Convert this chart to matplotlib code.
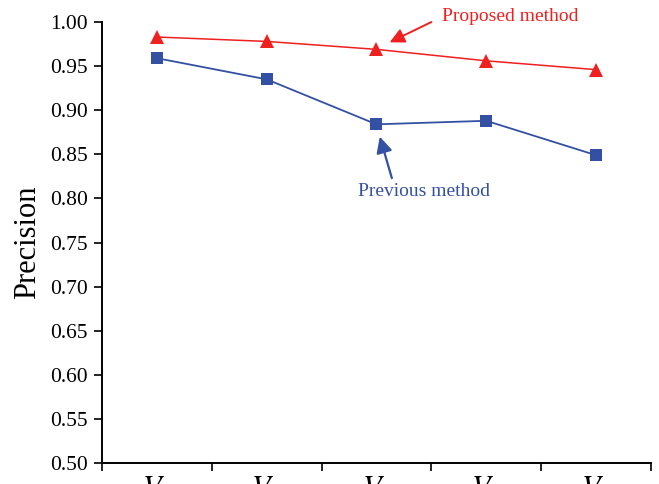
import matplotlib
matplotlib.use("Agg")
import matplotlib.pyplot as plt
import numpy as np

# 数据
categories = ["$V_1$", "$V_2$", "$V_3$", "$V_4$", "$V_5$"]
proposed = [0.983, 0.978, 0.969, 0.956, 0.946]
previous = [0.959, 0.935, 0.884, 0.888, 0.849]
yticks = [0.50, 0.55, 0.60, 0.65, 0.70, 0.75, 0.80, 0.85, 0.90, 0.95, 1.00]

plt.rcParams["font.family"] = ["Liberation Serif", "DejaVu Serif"]
plt.rcParams["mathtext.fontset"] = "stix"

red = "#ee2020"
blue = "#3350a3"

fig = plt.figure(figsize=(6.59, 4.84), dpi=100)
ax = fig.add_axes([0.1548, 0.0434, 0.833, 0.9111])

x = np.arange(len(categories))
ax.plot(x, proposed, color=red, lw=1.1, marker="^", markersize=10, markeredgewidth=0)
ax.plot(x, previous, color=blue, lw=1.3, marker="s", markersize=8.5, markeredgewidth=0)

ax.set_xlim(-0.5, len(categories) - 0.5)
ax.set_ylim(0.5, 1.0)
ax.set_yticks(yticks)
ax.set_yticklabels(["%.2f" % v for v in yticks], fontsize=15.5)

# 分类边界的刻度，标签放在中间
ax.set_xticks(np.arange(-0.5, len(categories)), minor=False)
ax.set_xticklabels([])
ax.set_xticks(x, minor=True)
ax.set_xticklabels(categories, minor=True, fontsize=22)
ax.tick_params(axis="x", which="minor", length=0, pad=9)
ax.tick_params(axis="x", which="major", length=6, width=1.2, direction="out")
ax.tick_params(axis="y", length=6, width=1.2, direction="out", pad=4)

for s in ["top", "right"]:
    ax.spines[s].set_visible(False)
for s in ["left", "bottom"]:
    ax.spines[s].set_linewidth(1.4)

ax.set_ylabel("Precision", fontsize=22, labelpad=6)

# 箭头和说明文字
ax.annotate("", xy=(2.12, 0.977), xytext=(2.50, 1.0),
            arrowprops=dict(arrowstyle="-|>", color=red, lw=1.4, mutation_scale=22,
                            shrinkA=0, shrinkB=0),
            annotation_clip=False)
ax.text(3.22, 1.0057, "Proposed method", color=red, fontsize=14, ha="center",
        va="center", clip_on=False)
ax.annotate("", xy=(2.03, 0.870), xytext=(2.14, 0.823),
            arrowprops=dict(arrowstyle="-|>", color=blue, lw=1.6, mutation_scale=24,
                            shrinkA=0, shrinkB=0))
ax.text(2.43, 0.808, "Previous method", color=blue, fontsize=14, ha="center", va="center")

fig.savefig("out.png", dpi=100)
